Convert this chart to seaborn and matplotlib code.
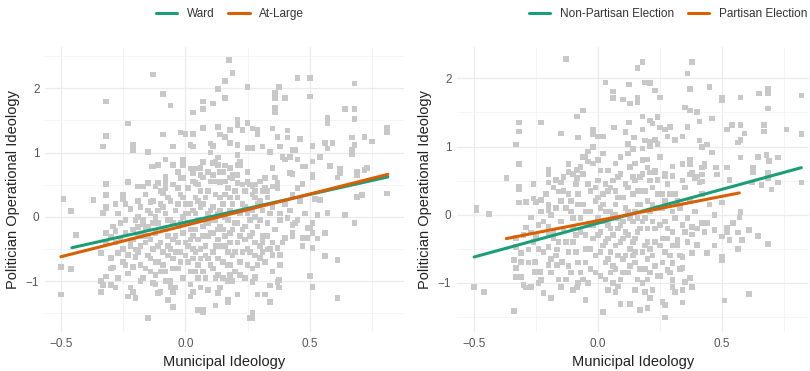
import numpy as np
import pandas as pd
import matplotlib
matplotlib.use("Agg")
import matplotlib.pyplot as plt
import seaborn as sns
from matplotlib.ticker import MultipleLocator

# ---------------- data ----------------
# left panel: Ward vs At-Large
left_points = [
    (-0.13, 2.21), (-0.09, 1.91), (-0.32, 1.79), (-0.06, 1.73), (0.07, 1.79), (0.07, 1.68), (0.03, 1.62),
    (-0.23, 1.45), (-0.32, 1.26), (-0.09, 1.28), (-0.02, 1.31), (0.0, 1.29), (0.03, 1.29), (0.07, 1.38),
    (-0.33, 1.09), (-0.21, 1.12), (-0.21, 1.04), (-0.15, 1.01), (-0.05, 1.09), (0.02, 1.12), (0.03, 1.09),
    (-0.32, 0.51), (-0.23, 0.54), (-0.19, 0.47), (-0.17, 0.47), (-0.15, 0.53), (-0.11, 0.53), (-0.12, 0.47),
    (-0.08, 0.62), (-0.08, 0.54), (-0.13, 0.78), (-0.11, 0.81), (-0.08, 0.89), (-0.05, 0.81), (-0.01, 0.89),
    (-0.01, 0.81), (-0.49, 0.28), (-0.37, 0.26), (-0.32, 0.34), (-0.28, 0.20), (-0.25, 0.34), (-0.25, 0.28),
    (-0.14, 0.23), (-0.09, 0.37), (-0.32, 0.16),
    (0.175, 2.44), (0.19, 2.24), (0.16, 2.11), (0.13, 1.99), (0.11, 1.76), (0.16, 1.85), (0.25, 2.02),
    (0.375, 2.02), (0.45, 2.16), (0.5, 2.16), (0.68, 2.07), (0.36, 1.93), (0.36, 1.85), (0.40, 1.85),
    (0.5, 1.87), (0.36, 1.70), (0.36, 1.63), (0.64, 1.68), (0.68, 1.68), (0.68, 1.52), (0.57, 1.54),
    (0.57, 1.46), (0.21, 1.51), (0.21, 1.43), (0.25, 1.46), (0.27, 1.37), (0.29, 1.35), (0.29, 1.29),
    (0.35, 1.37), (0.41, 1.34), (0.81, 1.38), (0.81, 1.32), (0.13, 1.40), (0.18, 1.35), (0.23, 1.35),
    (0.14, 1.28), (0.16, 1.24), (0.37, 1.24), (0.41, 1.23), (0.46, 1.21), (0.67, 1.23), (0.72, 1.24),
    (0.75, 1.17), (0.56, 1.15), (0.59, 1.15), (0.51, 1.10), (0.68, 1.12), (0.10, 1.14), (0.11, 1.10),
    (0.18, 1.15), (0.21, 1.12), (0.25, 1.07), (0.27, 1.07), (0.31, 1.09), (0.34, 1.01), (0.38, 1.09),
    (0.43, 1.04), (0.44, 1.04), (0.57, 1.06), (0.67, 1.04), (0.67, 0.98), (0.10, 1.0), (0.13, 0.92),
    (0.21, 0.96), (0.22, 0.86), (0.39, 0.93), (0.42, 0.93), (0.54, 0.93), (0.51, 0.86), (0.35, 0.76),
    (0.42, 0.68), (0.48, 0.78), (0.58, 0.79), (0.62, 0.75), (0.62, 0.68), (0.69, 0.70), (0.69, 0.65),
    (0.72, 0.73), (0.73, 0.76), (0.61, 0.61), (0.51, 0.65), (0.51, 0.61), (0.36, 0.61), (0.37, 0.53),
    (0.35, 0.47), (0.33, 0.40), (0.47, 0.51), (0.27, 0.47), (0.28, 0.40), (0.31, 0.40), (0.81, 0.36),
    (0.69, 0.31), (0.71, 0.34), (0.43, 0.34), (0.52, 0.28), (0.54, 0.26),
    (0.64, 0.03), (0.68, -0.10), (0.61, -0.67), (0.56, -0.61), (0.51, -0.48), (0.5, -0.92), (0.51, -1.09),
    (0.61, -1.26), (0.47, -0.33), (0.49, -0.33), (0.53, -0.34), (0.56, -0.25), (0.53, 0.03), (0.57, 0.06),
    (0.51, -0.10), (0.49, -0.17), (0.43, -0.13), (0.45, -0.05), (0.41, -0.02), (0.5, -0.17), (0.51, -0.25),
    (0.40, -0.33), (0.43, -0.25), (0.37, -0.48), (0.38, -0.59), (0.38, -0.75), (0.375, -0.98),
    (0.375, -1.10), (0.34, -1.07), (0.29, -1.21), (0.32, -1.21), (0.34, -1.32), (0.27, -1.49),
    (0.26, -1.57), (0.31, -0.39), (0.33, -0.51), (0.30, -0.64), (0.35, -0.59), (0.27, -1.01),
    (0.28, -0.93), (0.21, -1.21), (0.17, -1.29), (0.12, -1.38), (0.09, -1.14), (0.07, -1.45),
    (-0.5, -1.21), (-0.5, -0.78), (-0.46, -0.81), (-0.46, 0.09), (-0.44, -0.28), (-0.15, -1.57),
    (-0.05, -1.40), (-0.34, -1.0), (-0.34, -1.17), (-0.33, -1.06), (-0.30, -1.06), (-0.28, -1.10),
    (-0.33, 0.06), (-0.32, 0.14), (-0.28, 0.19), (-0.32, -0.25), (-0.30, -0.31), (-0.32, -0.39),
    (-0.28, -0.40), (-0.34, -0.56), (-0.30, -0.64), (-0.27, -0.56), (-0.29, -0.79), (-0.32, -0.93),
    (-0.24, -0.25), (-0.22, -0.40), (-0.23, -0.59), (-0.20, -0.51), (-0.21, -0.78), (-0.22, -1.10),
    (-0.23, -1.24), (-0.19, 0.0), (-0.17, -0.12), (-0.19, -0.16), (-0.11, -1.18), (-0.05, -1.17),
    (-0.07, -1.29), (0.02, -1.24), (0.05, -1.45), (0.07, -1.48), (0.27, -1.57), (0.17, -1.32),
    (0.37, -1.01), (0.13, -1.18), (0.03, -1.17), (-0.10, -1.17), (-0.06, -1.09), (-0.13, -1.03),
    (-0.21, -1.17), (-0.20, -1.26),
    (-0.135, 0.78), (-0.03, 0.70), (0.03, 0.68), (0.06, 0.76), (0.11, 0.84), (0.13, 0.81), (0.14, 0.70),
    (0.11, 0.65), (0.18, 0.76), (0.21, 0.81), (0.19, 0.65), (0.07, 0.61), (0.04, 0.53), (0.14, 0.54),
    (0.18, 0.61), (0.21, 0.53), (0.25, 0.54), (0.28, 0.50), (0.43, 0.67), (0.40, 0.89), (0.45, 0.89),
    (0.47, 0.78),
    # dense middle of the cloud
    (-0.29, -0.15), (-0.27, 0.05), (-0.26, -0.35), (-0.25, -0.70), (-0.24, -0.05), (-0.23, -0.88),
    (-0.22, 0.12), (-0.22, -0.45), (-0.21, -0.20), (-0.20, -0.62), (-0.27, -0.95), (-0.25, -0.50),
    (-0.30, -0.80), (-0.28, -0.22), (-0.24, 0.20),
    (-0.19, -0.30), (-0.18, 0.15), (-0.18, -0.75), (-0.17, -0.05), (-0.17, -0.95), (-0.16, -0.40),
    (-0.16, 0.35), (-0.15, -0.60), (-0.15, -0.15), (-0.14, 0.05), (-0.14, -0.85), (-0.13, -0.50),
    (-0.13, 0.25), (-0.12, -0.25), (-0.12, -1.05), (-0.11, -0.70), (-0.11, 0.10), (-0.10, -0.40),
    (-0.10, 0.40), (-0.19, -0.55), (-0.18, -1.0), (-0.16, -0.20), (-0.12, -0.90), (-0.14, -0.35),
    (-0.11, -0.10),
    (-0.09, -0.55), (-0.09, 0.15), (-0.08, -0.20), (-0.08, -0.85), (-0.07, 0.30), (-0.07, -0.45),
    (-0.06, -0.05), (-0.06, -1.00), (-0.05, -0.65), (-0.05, 0.50), (-0.04, -0.30), (-0.04, 0.10),
    (-0.03, -0.80), (-0.03, -0.15), (-0.02, 0.35), (-0.02, -0.55), (-0.01, -0.95), (-0.01, 0.00),
    (0.00, -0.40), (0.00, 0.20), (-0.09, -0.75), (-0.07, -0.30), (-0.05, -0.10), (-0.04, -1.10),
    (-0.02, 0.60), (-0.08, 0.45), (-0.06, -0.50), (-0.03, 0.20),
    (0.01, -0.70), (0.01, 0.45), (0.02, -0.20), (0.02, -1.05), (0.03, 0.10), (0.03, -0.50), (0.04, -0.85),
    (0.04, 0.30), (0.05, -0.05), (0.05, -0.35), (0.06, 0.65), (0.06, -0.65), (0.07, -0.15), (0.07, 0.20),
    (0.08, -0.95), (0.08, -0.45), (0.09, 0.05), (0.09, 0.40), (0.10, -0.25), (0.10, -0.75), (0.01, 0.05),
    (0.03, -0.30), (0.05, 0.50), (0.06, -1.10), (0.08, -0.60), (0.02, 0.75), (0.09, -0.10), (0.04, -0.55),
    (0.07, 0.85),
    (0.11, 0.15), (0.11, -0.55), (0.12, -0.05), (0.12, 0.55), (0.13, -0.90), (0.13, -0.35), (0.14, 0.30),
    (0.14, -0.15), (0.15, -0.70), (0.15, 0.70), (0.16, 0.00), (0.16, -0.45), (0.17, -1.00), (0.17, 0.45),
    (0.18, -0.25), (0.18, 0.10), (0.19, -0.60), (0.19, 0.60), (0.20, -0.10), (0.20, -0.85), (0.11, -0.25),
    (0.13, 0.05), (0.15, -0.20), (0.16, 0.35), (0.18, -0.75), (0.12, 0.85), (0.17, -0.55), (0.19, 0.20),
    (0.14, -1.10),
    (0.21, 0.30), (0.21, -0.40), (0.22, 0.05), (0.22, -0.70), (0.23, -0.20), (0.23, 0.50), (0.24, -0.95),
    (0.24, 0.15), (0.25, -0.50), (0.25, 0.70), (0.26, -0.05), (0.26, -0.30), (0.27, 0.35), (0.27, -0.80),
    (0.28, 0.00), (0.28, -0.60), (0.29, 0.20), (0.29, -0.15), (0.30, -0.45), (0.30, 0.55), (0.22, 0.80),
    (0.24, -0.35), (0.26, 0.10), (0.28, -0.95),
    (0.31, 0.10), (0.31, -0.30), (0.32, -0.70), (0.33, 0.30), (0.33, -0.10), (0.34, -0.50), (0.35, 0.15),
    (0.36, -0.20), (0.37, 0.45), (0.38, -0.05), (0.39, -0.40), (0.40, 0.20), (0.32, 0.60), (0.35, -0.85),
    (0.38, 0.05), (0.42, 0.10), (0.44, -0.10), (0.46, 0.25), (0.47, -0.45), (0.48, 0.05), (0.45, 0.45),
    (0.43, -0.30),
    (-0.20, -0.05), (-0.19, 0.25), (-0.18, -0.45), (-0.17, -0.30), (-0.16, -0.80), (-0.15, 0.10),
    (-0.14, -0.65), (-0.13, -0.10), (-0.12, 0.00), (-0.11, -0.45), (-0.10, -0.85), (-0.10, 0.20),
    (-0.09, -0.20), (-0.08, 0.05), (-0.07, -0.60), (-0.07, -0.05), (-0.06, 0.25), (-0.05, -0.35),
    (-0.05, -0.80), (-0.04, -0.55), (-0.03, 0.45), (-0.03, -0.40), (-0.02, -0.10), (-0.02, -0.70),
    (-0.01, 0.30), (-0.01, -0.25), (0.00, -0.60), (0.00, 0.05), (0.01, -0.45), (0.01, -0.10), (0.02, 0.20),
    (0.02, -0.85), (0.03, -0.65), (0.03, 0.55), (0.04, -0.20), (0.04, 0.05), (0.05, -0.75), (0.05, 0.25),
    (0.06, -0.50), (0.06, 0.15), (0.07, -0.30), (0.07, -0.85), (0.08, 0.30), (0.08, -0.10), (0.09, -0.65),
    (0.09, -0.30), (0.10, 0.10), (0.10, 0.55), (0.11, -0.80), (0.11, -0.05), (0.12, -0.45), (0.12, 0.35),
    (0.13, -0.20), (0.13, -0.65), (0.14, 0.10), (0.14, -0.45), (0.15, 0.20), (0.15, -0.95), (0.16, -0.30),
    (0.16, 0.55), (0.17, -0.05), (0.17, -0.75), (0.18, 0.30), (0.18, -0.40), (0.19, -0.20), (0.19, -1.0),
    (0.20, 0.40), (0.20, -0.55), (0.21, -0.10), (0.21, 0.65), (0.22, -0.30), (0.22, -0.90), (0.23, 0.20),
    (0.23, -0.55), (0.24, 0.40), (0.24, -0.15), (0.25, -0.75), (0.25, 0.05), (0.26, 0.50), (0.26, -0.55),
    (0.27, -0.25), (0.27, 0.10), (0.28, -0.40), (0.28, 0.30), (0.29, -0.75), (0.30, -0.05), (0.30, 0.25),
    (0.31, -0.55), (0.32, 0.45), (0.33, -0.30), (0.34, 0.05), (0.35, -0.40), (0.06, 0.40), (-0.01, 0.60),
    (0.09, 0.70), (0.04, 0.75), (0.16, 0.80), (-0.15, -0.30), (-0.12, -0.70), (-0.24, -0.75),
    (-0.26, -0.10), (-0.21, -0.35), (0.02, -0.35), (0.12, -0.95), (-0.08, -1.0), (0.05, -0.95),
    (0.18, -0.90),
]

# right panel: Non-Partisan vs Partisan
right_points = [
    (-0.13, 2.28), (0.03, 1.94), (0.06, 1.81), (0.06, 1.71), (-0.085, 1.44), (-0.06, 1.53), (-0.32, 1.35),
    (-0.32, 1.22), (-0.33, 1.03), (-0.32, 0.74), (-0.32, 0.41), (-0.32, 0.37), (-0.23, 1.35), (-0.15, 1.19),
    (-0.08, 1.13), (-0.02, 1.25), (-0.02, 1.18), (0.0, 1.15), (0.02, 1.15), (-0.37, 0.54), (-0.20, 0.66),
    (-0.20, 0.59), (-0.20, 0.47), (-0.12, 0.74), (-0.12, 0.63), (-0.085, 0.66), (-0.085, 0.54),
    (-0.17, 0.51), (-0.15, 0.47), (-0.04, 0.93), (-0.02, 0.99), (-0.06, 0.85), (-0.04, 0.78),
    (-0.32, 0.18), (-0.29, 0.19), (-0.26, 0.24), (-0.23, 0.22), (-0.16, 0.34), (-0.20, 0.15), (-0.49, 0.10),
    (0.18, 2.24), (0.16, 2.15), (0.38, 2.24), (0.36, 2.07), (0.125, 1.91), (0.19, 1.94), (0.21, 1.93),
    (0.23, 1.82), (0.10, 1.69), (0.13, 1.63), (0.16, 1.65), (0.16, 1.72), (0.25, 1.72), (0.37, 1.84),
    (0.065, 1.28), (0.11, 1.21), (0.125, 1.35), (0.18, 1.44), (0.18, 1.25), (0.21, 1.38), (0.22, 1.34),
    (0.24, 1.43), (0.25, 1.28), (0.27, 1.25), (0.29, 1.29), (0.35, 1.57), (0.37, 1.53), (0.40, 1.51),
    (0.41, 1.37), (0.36, 1.29), (0.34, 1.15), (0.31, 1.10), (0.28, 1.15), (0.23, 1.10), (0.21, 1.07),
    (0.19, 1.09), (0.145, 1.13), (0.12, 1.04), (0.14, 0.96), (0.18, 0.97), (0.21, 1.0), (0.24, 1.04),
    (0.41, 1.09), (0.42, 0.99), (0.44, 1.03), (0.37, 0.81), (0.37, 0.74), (0.42, 0.69), (0.43, 0.74),
    (0.34, 0.74), (0.30, 0.57), (0.27, 0.57), (0.24, 0.51), (0.23, 0.63), (0.20, 0.81), (0.20, 0.69),
    (0.21, 0.62), (0.37, 0.59), (0.39, 0.54), (0.41, 0.47),
    (0.82, 1.75), (0.82, 1.18), (0.82, 0.47), (0.76, 1.25), (0.685, 1.85), (0.685, 1.78), (0.65, 1.78),
    (0.685, 1.56), (0.575, 1.72), (0.50, 1.72), (0.50, 1.68), (0.54, 1.32), (0.575, 1.32), (0.59, 1.19),
    (0.575, 1.10), (0.565, 1.06), (0.52, 1.25), (0.67, 1.32), (0.67, 1.22), (0.575, 0.84), (0.645, 0.85),
    (0.68, 0.88), (0.69, 0.79), (0.725, 0.84), (0.625, 0.69), (0.625, 0.62), (0.685, 0.62), (0.685, 0.54),
    (0.725, 0.47), (0.70, 0.37), (0.66, 0.44), (0.62, 0.47), (0.475, 0.69), (0.48, 0.59), (0.52, 0.69),
    (0.53, 0.51), (0.50, 0.18), (0.46, 0.91), (0.43, 0.71), (0.42, 0.59), (0.42, 0.49), (0.40, 0.56),
    (0.38, 0.62), (0.30, 0.71), (0.46, 1.41), (0.45, 1.87),
    (0.685, -0.43), (0.645, -0.31), (0.61, -0.22), (0.61, -1.16), (0.51, -1.26), (0.565, -0.50),
    (0.58, -0.37), (0.565, -0.26), (0.50, -0.66), (0.50, -0.62), (0.575, 0.04), (0.57, -0.04),
    (0.545, -0.12), (0.52, -0.19), (0.52, -0.26), (0.53, -0.37), (0.50, -0.32), (0.47, 0.0), (0.44, -0.12),
    (0.42, -0.12), (0.47, -0.22), (0.43, -0.25), (0.40, -0.44), (0.44, -0.56), (0.38, -0.56), (0.34, -0.62),
    (0.37, -0.93), (0.35, -0.99), (0.38, -1.06), (0.34, -1.10), (0.31, -1.13), (0.34, -1.29), (0.26, -1.28),
    (0.27, -1.32), (0.27, -1.51), (0.20, -1.37), (0.17, -1.40), (0.13, -1.31), (0.09, -1.31), (0.21, -1.22),
    (0.04, -1.10), (0.07, -1.13), (0.15, -1.10), (0.19, -1.13), (0.22, -1.10), (0.30, -1.06), (0.30, -0.96),
    (0.28, -0.81), (0.30, -0.71), (0.34, -0.78), (0.38, -0.18), (0.38, -0.29), (0.35, -0.25), (0.32, -0.37),
    (-0.5, -1.06), (-0.46, -1.13), (-0.34, -1.41), (-0.49, 0.07), (-0.44, 0.01), (-0.25, 0.19),
    (-0.33, -0.34), (-0.33, -0.47), (-0.31, -0.56), (-0.34, -0.66), (-0.31, -0.69), (-0.33, -0.78),
    (-0.33, -0.91), (-0.31, -0.91), (-0.30, -1.03), (-0.29, -1.07), (-0.27, -1.06), (-0.24, -1.0),
    (-0.23, -0.96), (-0.19, -1.22), (-0.15, -1.06), (-0.10, -1.10), (-0.085, -1.07), (-0.05, -1.25),
    (0.02, -1.43), (-0.27, -0.04), (-0.29, -0.19), (-0.27, -0.26), (-0.25, -0.32), (-0.28, -0.51),
    (-0.255, -0.69), (-0.255, -0.84), (-0.235, -0.84), (-0.19, 0.0), (-0.20, 0.07), (-0.20, -0.18),
    (-0.18, -0.34), (-0.20, -0.47), (-0.165, -0.51), (-0.145, -0.69), (-0.165, -0.74), (-0.20, -0.74),
    # dense middle of the cloud
    (-0.14, -0.20), (-0.13, 0.10), (-0.12, -0.55), (-0.12, 0.30), (-0.11, -0.85), (-0.10, -0.05),
    (-0.10, -0.40), (-0.09, 0.45), (-0.08, -0.70), (-0.08, 0.15), (-0.07, -0.25), (-0.06, -0.95),
    (-0.06, 0.60), (-0.05, -0.50), (-0.05, 0.05), (-0.04, -0.15), (-0.03, 0.35), (-0.03, -0.80),
    (-0.02, -0.35), (-0.01, 0.20), (-0.01, -0.60), (0.00, -0.05), (0.00, 0.50), (-0.13, -0.95),
    (-0.11, 0.20), (-0.09, -0.30), (-0.07, 0.70), (-0.04, -1.00), (-0.02, 0.75), (-0.14, 0.55),
    (0.01, -0.90), (0.01, -0.25), (0.02, 0.30), (0.02, -0.45), (0.03, 0.05), (0.03, -0.70), (0.04, 0.65),
    (0.04, -0.15), (0.05, -0.55), (0.05, 0.40), (0.06, -1.00), (0.06, -0.30), (0.07, 0.15), (0.07, -0.80),
    (0.08, -0.05), (0.08, 0.55), (0.09, -0.40), (0.09, 0.85), (0.10, -0.65), (0.10, 0.25), (0.02, 0.90),
    (0.04, -0.35), (0.06, 0.00), (0.08, -0.20), (0.09, -0.95), (0.03, 0.45), (0.05, -0.85), (0.07, 0.35),
    (0.10, -0.10), (0.01, 0.10),
    (0.11, -0.25), (0.11, 0.45), (0.12, -0.85), (0.12, 0.05), (0.13, -0.50), (0.13, 0.70), (0.14, -0.10),
    (0.14, 0.30), (0.15, -0.70), (0.15, -0.35), (0.16, 0.15), (0.16, -0.95), (0.17, 0.55), (0.17, -0.20),
    (0.18, -0.55), (0.18, 0.35), (0.19, -0.05), (0.19, -0.80), (0.20, 0.20), (0.20, -0.40), (0.12, 0.90),
    (0.14, -0.60), (0.16, -0.05), (0.18, 0.80), (0.20, -0.65), (0.15, 0.50),
    (0.21, 0.05), (0.22, -0.60), (0.22, 0.40), (0.23, -0.20), (0.24, -0.90), (0.24, 0.10), (0.25, -0.45),
    (0.26, 0.30), (0.26, -0.70), (0.27, -0.10), (0.28, 0.45), (0.28, -0.35), (0.29, -0.60), (0.30, 0.05),
    (0.30, -0.25), (0.23, 0.65), (0.25, 0.85), (0.27, 0.20), (0.29, -0.85), (0.21, -0.85),
    (0.31, 0.30), (0.32, -0.45), (0.33, 0.10), (0.34, -0.15), (0.35, 0.40), (0.36, -0.05), (0.37, 0.20),
    (0.33, -0.80), (0.36, -0.40), (0.39, 0.05), (0.40, -0.20), (0.42, 0.30), (0.45, 0.15), (0.47, -0.45),
    (-0.28, -0.70), (-0.26, -0.40), (-0.24, -0.15), (-0.22, -0.55), (-0.21, 0.30), (-0.19, -0.85),
    (-0.18, -0.25), (-0.17, 0.10), (-0.16, -0.40), (-0.15, 0.20), (-0.30, -0.30), (-0.23, 0.05),
    (-0.17, -0.60), (-0.22, -1.15), (-0.26, 0.45),
    (-0.15, -0.10), (-0.14, 0.35), (-0.13, -0.40), (-0.12, -0.75), (-0.11, 0.05), (-0.10, -0.20),
    (-0.10, 0.60), (-0.09, -0.55), (-0.08, 0.30), (-0.07, -0.05), (-0.07, -0.85), (-0.06, 0.15),
    (-0.05, -0.30), (-0.05, -0.70), (-0.04, 0.45), (-0.03, -0.50), (-0.03, 0.05), (-0.02, -0.15),
    (-0.01, 0.40), (-0.01, -0.85), (0.00, -0.30), (0.00, 0.25), (0.01, -0.55), (0.01, 0.65), (0.02, -0.10),
    (0.02, 0.15), (0.03, -0.40), (0.03, -0.95), (0.04, 0.35), (0.04, -0.65), (0.05, 0.05), (0.05, -0.20),
    (0.06, 0.50), (0.06, -0.75), (0.07, -0.45), (0.07, 0.00), (0.08, 0.25), (0.08, -0.60), (0.09, -0.15),
    (0.09, 0.60), (0.10, -0.85), (0.10, -0.35), (0.11, 0.10), (0.11, -0.60), (0.12, 0.40), (0.12, -0.30),
    (0.13, -0.05), (0.13, -0.75), (0.14, 0.55), (0.14, -0.40), (0.15, 0.05), (0.15, -0.55), (0.16, 0.35),
    (0.16, -0.25), (0.17, -0.80), (0.17, 0.15), (0.18, -0.10), (0.18, 0.60), (0.19, -0.45), (0.19, 0.35),
    (0.20, -0.20), (0.20, -0.95), (0.21, 0.50), (0.21, -0.50), (0.22, -0.10), (0.22, 0.15), (0.23, -0.75),
    (0.23, -0.40), (0.24, 0.30), (0.25, -0.15), (0.25, -0.90), (0.26, 0.10), (0.26, -0.35), (0.27, 0.60),
    (0.27, -0.55), (0.28, -0.20), (0.29, 0.30), (0.30, -0.45), (0.31, -0.05), (0.32, 0.20), (0.33, -0.60),
    (0.34, 0.50), (-0.18, 0.40), (-0.20, -0.30), (-0.22, -0.10), (-0.24, -0.50), (-0.19, -0.65),
    (-0.16, -0.95), (-0.08, -1.0), (0.08, -1.05), (0.18, -1.0), (0.00, 0.80), (0.07, 0.75), (-0.05, 0.85),
    (0.15, 0.75),
]

# fitted lines (end points)
left_line_group = ["Ward", "Ward", "At-Large", "At-Large"]
left_line_x = [-0.456, 0.813, -0.50, 0.813]
left_line_y = [-0.48, 0.62, -0.62, 0.66]

right_line_group = ["Non-Partisan Election", "Non-Partisan Election",
                    "Partisan Election", "Partisan Election"]
right_line_x = [-0.50, 0.82, -0.37, 0.57]
right_line_y = [-0.62, 0.69, -0.35, 0.32]

GREEN, ORANGE = "#1B9E77", "#D95F02"
POINT_COLOR = "#C8C8C8"

# ---------------- figure ----------------
sns.set_style("white")
plt.rcParams["font.family"] = ["Liberation Sans", "DejaVu Sans"]

fig = plt.figure(figsize=(8.1, 3.71), dpi=100)
ax_l = fig.add_axes([45 / 810, 1 - 332 / 371, 359 / 810, 285 / 371])
ax_r = fig.add_axes([457 / 810, 1 - 332 / 371, 352 / 810, 285 / 371])

panels = [
    (ax_l, left_points, left_line_group, left_line_x, left_line_y,
     ["Ward", "At-Large"], (-0.564, 0.878), (-1.79, 2.64), 230 / 810),
    (ax_r, right_points, right_line_group, right_line_x, right_line_y,
     ["Non-Partisan Election", "Partisan Election"], (-0.569, 0.851), (-1.72, 2.46), 668 / 810),
]

for ax, pts, grp, lx, ly, order, xlim, ylim, leg_x in panels:
    pts_df = pd.DataFrame(pts, columns=["muni", "pol"])
    sns.scatterplot(data=pts_df, x="muni", y="pol", marker="s", s=16,
                    color=POINT_COLOR, edgecolor="none", linewidth=0, ax=ax, zorder=2)
    line_df = pd.DataFrame({"muni": lx, "pol": ly, "group": grp})
    sns.lineplot(data=line_df, x="muni", y="pol", hue="group", hue_order=order,
                 palette=[GREEN, ORANGE], linewidth=2.2, ax=ax, zorder=3,
                 estimator=None, sort=False)

    ax.set_xlim(*xlim)
    ax.set_ylim(*ylim)
    ax.xaxis.set_major_locator(MultipleLocator(0.5))
    ax.xaxis.set_minor_locator(MultipleLocator(0.25))
    ax.yaxis.set_major_locator(MultipleLocator(1))
    ax.yaxis.set_minor_locator(MultipleLocator(0.5))
    ax.grid(which="major", color="#EBEBEB", linewidth=0.9, zorder=0)
    ax.grid(which="minor", color="#F2F2F2", linewidth=0.6, zorder=0)
    ax.set_axisbelow(True)
    for s in ax.spines.values():
        s.set_visible(False)
    ax.tick_params(which="both", length=0, labelsize=8.5, labelcolor="#555555", pad=4)

    ax.set_xlabel("Municipal Ideology", fontsize=10.5, color="#222222", labelpad=4)
    ax.set_ylabel("Politician Operational Ideology", fontsize=10.5, color="#222222", labelpad=4)

    handles, labels = ax.get_legend_handles_labels()
    ax.get_legend().remove()
    fig.legend(handles, labels, loc="center", bbox_to_anchor=(leg_x, 1 - 14 / 371),
               ncol=2, frameon=False, fontsize=8.5, handlelength=1.8,
               columnspacing=1.2, handletextpad=0.8, labelcolor="#333333")

fig.savefig("out.png", dpi=100)
